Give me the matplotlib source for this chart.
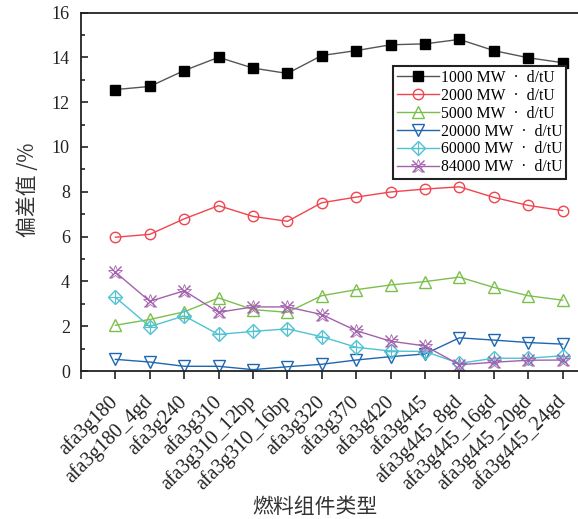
import matplotlib
matplotlib.use("Agg")
import matplotlib.pyplot as plt
from matplotlib.ticker import MultipleLocator
from matplotlib.lines import Line2D

plt.rcParams['font.family'] = ['Liberation Serif', 'Noto Sans CJK SC']

categories = ["afa3g180", "afa3g180_4gd", "afa3g240", "afa3g310", "afa3g310_12bp",
              "afa3g310_16bp", "afa3g320", "afa3g370", "afa3g420", "afa3g445",
              "afa3g445_8gd", "afa3g445_16gd", "afa3g445_20gd", "afa3g445_24gd"]

dev_1000 = [12.56, 12.70, 13.41, 14.00, 13.52, 13.28, 14.08, 14.30, 14.56, 14.60, 14.80, 14.30, 13.98, 13.76]
dev_2000 = [5.97, 6.10, 6.79, 7.38, 6.90, 6.68, 7.51, 7.76, 7.99, 8.12, 8.22, 7.75, 7.39, 7.16]
dev_5000 = [2.04, 2.30, 2.64, 3.26, 2.74, 2.62, 3.36, 3.63, 3.84, 3.99, 4.19, 3.73, 3.36, 3.16]
dev_20000 = [0.52, 0.40, 0.21, 0.21, 0.06, 0.19, 0.30, 0.49, 0.64, 0.76, 1.48, 1.38, 1.27, 1.20]
dev_60000 = [3.29, 1.98, 2.46, 1.63, 1.77, 1.88, 1.53, 1.06, 0.89, 0.87, 0.34, 0.57, 0.57, 0.68]
dev_84000 = [4.41, 3.11, 3.58, 2.62, 2.86, 2.86, 2.52, 1.80, 1.33, 1.12, 0.28, 0.39, 0.48, 0.49]

labels = ["1000 MW\u2002·\u2002d/tU", "2000 MW\u2002·\u2002d/tU", "5000 MW\u2002·\u2002d/tU",
          "20000 MW\u2002·\u2002d/tU", "60000 MW\u2002·\u2002d/tU", "84000 MW\u2002·\u2002d/tU"]

fig = plt.figure(figsize=(5.78, 5.19), dpi=100)
ax = fig.add_axes([81 / 578, 1 - 371 / 519, 516 / 578, 358.5 / 519])

x = list(range(len(categories)))
lw = 1.0
ms = 7

ax.plot(x, dev_1000, color='#555555', lw=lw, marker='s', ms=ms,
        mfc='black', mec='black', label=labels[0])
ax.plot(x, dev_2000, color='#f2444e', lw=lw, marker='o', ms=ms + 0.5,
        mfc='none', mec='#f2444e', label=labels[1])
ax.plot(x, dev_5000, color='#7cc04c', lw=lw, marker='^', ms=ms + 1,
        mfc='none', mec='#7cc04c', label=labels[2])
ax.plot(x, dev_20000, color='#1f66b0', lw=lw, marker='v', ms=ms + 1,
        mfc='none', mec='#1f66b0', label=labels[3])
l5, = ax.plot(x, dev_60000, color='#4fc2d4', lw=lw, marker='D', ms=ms,
              mfc='none', mec='#4fc2d4')
ax.plot(x, dev_60000, ls='none', marker='+', ms=ms + 2, mec='#4fc2d4', mew=0.8)
l6, = ax.plot(x, dev_84000, color='#a361ad', lw=lw, marker='x', ms=ms + 1,
              mec='#a361ad', mew=1.0)
ax.plot(x, dev_84000, ls='none', marker='*', ms=ms + 3, mfc='none',
        mec='#a361ad', mew=0.6)

ax.set_xlim(-1, 14)
ax.set_ylim(0, 16)
ax.set_xticks(list(range(-1, len(categories))))
ax.set_xticklabels([''] + categories, rotation=45, ha='right',
                   va='center', rotation_mode='anchor', fontsize=14.5)
ax.yaxis.set_major_locator(MultipleLocator(2))
ax.yaxis.set_minor_locator(MultipleLocator(1))
ax.tick_params(axis='y', which='major', direction='in', length=5, width=1.2,
               labelsize=13, pad=8, colors='#222222')
ax.tick_params(axis='y', which='minor', direction='in', length=3, width=1.2,
               colors='#222222')
ax.tick_params(axis='x', which='major', direction='out', length=6, width=1.2,
               labelsize=14.5, pad=14, colors='#222222')
for s in ax.spines.values():
    s.set_linewidth(1.3)
    s.set_color('#222222')

ax.set_xlabel('燃料组件类型', family=['Noto Sans CJK SC'], fontsize=15,
              color='#333333')
ax.xaxis.set_label_coords(315 / 578, 1 - 496 / 519, transform=fig.transFigure)
ax.set_ylabel('偏差值 /%', family=['Noto Sans CJK SC'], fontsize=15,
              color='#333333')
ax.yaxis.set_label_coords(39 / 578, 1 - 190 / 519, transform=fig.transFigure)

# legend handles combine outline markers with their inner glyphs
h = ax.get_lines()
handles = [h[0], h[1], h[2], h[3],
           (l5, Line2D([], [], ls='none', marker='+', ms=ms + 2, mec='#4fc2d4', mew=0.8)),
           (l6, Line2D([], [], ls='none', marker='*', ms=ms + 3, mfc='none', mec='#a361ad', mew=0.6))]
leg = fig.legend(handles, labels, loc='upper left',
                 bbox_to_anchor=(393 / 578, 1 - 66 / 519),
                 prop={'family': ['Liberation Serif', 'DejaVu Serif'], 'size': 11.3},
                 handlelength=2.7, handletextpad=0.1, borderpad=0.25,
                 labelspacing=0.12, fancybox=False, framealpha=1,
                 edgecolor='#222222', borderaxespad=0)
leg.get_frame().set_linewidth(1.5)

fig.savefig('out.png', dpi=100)
